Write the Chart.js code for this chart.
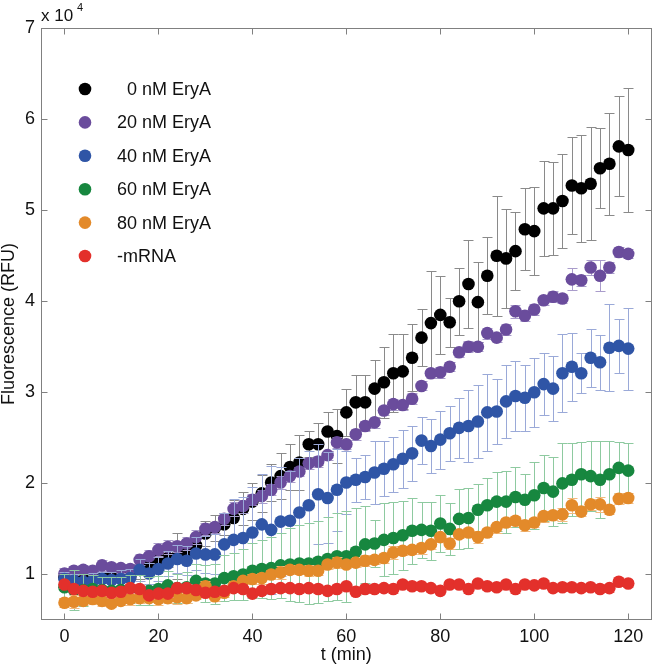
<!DOCTYPE html>
<html>
<head>
<meta charset="utf-8">
<title>Fluorescence vs time</title>
<script src="https://cdn.jsdelivr.net/npm/chart.js@4.4.1/dist/chart.umd.min.js"></script>
<style>
  html, body { margin: 0; padding: 0; background: #fff; }
  #wrap { width: 658px; height: 669px; }
</style>
</head>
<body>
<div id="wrap"><canvas id="fluoChart" width="658" height="669"></canvas></div>
<script>
// time points (min)
var times = [0,2,4,6,8,10,12,14,16,18,
             20,22,24,26,28,30,32,34,36,38,
             40,42,44,46,48,50,52,54,56,58,
             60,62,64,66,68,70,72,74,76,78,
             80,82,84,86,88,90,92,94,96,98,
             100,102,104,106,108,110,112,114,116,118,
             120];

var xTicks = [0, 20, 40, 60, 80, 100, 120];
var yTicks = [10000, 20000, 30000, 40000, 50000, 60000, 70000];

var seriesLabels = ['  0 nM EryA', '20 nM EryA', '40 nM EryA', '60 nM EryA', '80 nM EryA', '-mRNA'];

// fluorescence, in units of 10^4 RFU
var eryA0 = [0.97,0.95,0.94,0.96,0.97,0.97,0.99,0.98,1.05,1.12,
             1.16,1.18,1.20,1.26,1.32,1.45,1.51,1.55,1.62,1.72,
             1.80,1.89,2.01,2.08,2.18,2.23,2.43,2.43,2.57,2.52,
             2.78,2.89,2.89,3.04,3.11,3.21,3.23,3.38,3.60,3.76,
             3.85,3.77,4.00,4.19,3.99,4.28,4.50,4.47,4.55,4.79,
             4.77,5.02,5.02,5.10,5.27,5.24,5.29,5.46,5.51,5.70,
             5.66];
var eryA0Err = [0.06,0.05,0.05,0.06,0.06,0.06,0.07,0.08,0.10,0.08,
                0.08,0.10,0.25,0.10,0.12,0.14,0.14,0.12,0.20,0.18,
                0.20,0.20,0.20,0.25,0.25,0.30,0.14,0.23,0.21,0.30,
                0.26,0.30,0.30,0.32,0.39,0.43,0.41,0.37,0.31,0.57,
                0.43,0.27,0.37,0.48,0.44,0.42,0.66,0.54,0.43,0.45,
                0.48,0.52,0.51,0.52,0.53,0.59,0.62,0.44,0.56,0.55,
                0.68];

var eryA20 = [1.01,1.04,1.05,1.04,1.10,1.08,1.07,1.06,1.16,1.20,
              1.27,1.30,1.31,1.34,1.41,1.50,1.52,1.61,1.72,1.75,
              1.82,1.86,1.93,2.01,2.08,2.13,2.22,2.24,2.31,2.45,
              2.43,2.54,2.63,2.67,2.80,2.87,2.86,2.93,3.07,3.21,
              3.22,3.28,3.44,3.50,3.50,3.65,3.60,3.69,3.89,3.84,
              3.91,4.01,4.05,4.03,4.24,4.23,4.37,4.28,4.37,4.54,
              4.52];
var eryA20Err = [0.06,0.05,0.05,0.05,0.06,0.05,0.05,0.06,0.06,0.07,
                 0.07,0.08,0.06,0.07,0.08,0.07,0.06,0.07,0.08,0.07,
                 0.06,0.07,0.06,0.07,0.06,0.05,0.06,0.06,0.05,0.06,
                 0.05,0.06,0.05,0.06,0.05,0.06,0.05,0.06,0.05,0.05,
                 0.06,0.05,0.05,0.06,0.05,0.06,0.05,0.06,0.07,0.06,
                 0.06,0.05,0.06,0.05,0.12,0.06,0.08,0.17,0.06,0.05,
                 0.05];

var eryA40 = [0.95,0.93,0.92,0.93,0.95,0.94,0.95,0.96,1.05,1.01,
              1.06,1.12,1.17,1.15,1.23,1.22,1.22,1.33,1.38,1.40,
              1.46,1.55,1.49,1.58,1.59,1.68,1.76,1.88,1.84,1.93,
              2.01,2.04,2.07,2.12,2.16,2.21,2.27,2.33,2.47,2.41,
              2.48,2.55,2.61,2.63,2.68,2.78,2.79,2.90,2.96,2.94,
              3.00,3.09,3.04,3.21,3.28,3.21,3.38,3.33,3.49,3.51,
              3.48];
var eryA40Err = [0.08,0.08,0.08,0.09,0.08,0.09,0.10,0.10,0.12,0.12,
                 0.13,0.14,0.15,0.16,0.18,0.20,0.22,0.35,0.45,0.45,
                 0.50,0.55,0.70,0.60,0.55,0.60,0.60,0.55,0.50,0.45,
                 0.35,0.24,0.24,0.35,0.30,0.30,0.32,0.30,0.26,0.30,
                 0.32,0.30,0.33,0.40,0.40,0.42,0.36,0.40,0.38,0.36,
                 0.38,0.34,0.36,0.43,0.37,0.22,0.32,0.30,0.48,0.30,
                 0.45];

var eryA60 = [0.86,0.83,0.83,0.84,0.83,0.82,0.83,0.84,0.83,0.82,
              0.84,0.88,0.85,0.86,0.93,0.90,0.90,0.96,0.98,1.00,
              1.04,1.06,1.07,1.10,1.11,1.12,1.12,1.14,1.17,1.20,
              1.20,1.25,1.33,1.34,1.38,1.40,1.43,1.48,1.49,1.48,
              1.56,1.50,1.61,1.62,1.71,1.76,1.80,1.80,1.85,1.82,
              1.87,1.95,1.91,2.00,2.04,2.10,2.08,2.04,2.10,2.17,
              2.14];
var eryA60Err = [0.15,0.22,0.18,0.15,0.14,0.15,0.14,0.15,0.16,0.15,
                 0.14,0.16,0.16,0.17,0.18,0.20,0.22,0.25,0.26,0.28,
                 0.30,0.32,0.34,0.36,0.40,0.42,0.44,0.45,0.46,0.48,
                 0.50,0.48,0.42,0.26,0.40,0.40,0.38,0.36,0.31,0.32,
                 0.31,0.29,0.33,0.33,0.28,0.30,0.32,0.34,0.33,0.28,
                 0.37,0.36,0.38,0.44,0.40,0.35,0.38,0.42,0.36,0.28,
                 0.30];

var eryA80 = [0.69,0.70,0.71,0.73,0.71,0.68,0.71,0.73,0.74,0.74,
              0.73,0.74,0.75,0.74,0.77,0.87,0.76,0.80,0.87,0.93,
              0.95,0.96,1.00,1.02,1.05,1.05,1.04,1.04,1.11,1.13,
              1.11,1.13,1.15,1.16,1.18,1.24,1.26,1.27,1.29,1.33,
              1.41,1.34,1.44,1.46,1.41,1.46,1.52,1.57,1.59,1.54,
              1.57,1.64,1.65,1.66,1.76,1.69,1.77,1.77,1.71,1.83,
              1.84];
var eryA80Err = [0.05,0.07,0.04,0.05,0.06,0.04,0.05,0.06,0.05,0.04,
                 0.06,0.05,0.07,0.05,0.04,0.06,0.05,0.05,0.06,0.04,
                 0.05,0.06,0.05,0.07,0.05,0.04,0.06,0.05,0.05,0.06,
                 0.04,0.05,0.06,0.05,0.05,0.07,0.05,0.04,0.06,0.05,
                 0.05,0.06,0.04,0.05,0.07,0.05,0.06,0.05,0.04,0.06,
                 0.05,0.06,0.05,0.07,0.08,0.05,0.06,0.08,0.05,0.06,
                 0.05];

var noMrna = [0.89,0.84,0.82,0.81,0.82,0.80,0.81,0.85,0.84,0.77,
              0.79,0.79,0.85,0.85,0.83,0.80,0.81,0.82,0.85,0.84,
              0.79,0.82,0.84,0.85,0.85,0.84,0.85,0.84,0.82,0.84,
              0.87,0.81,0.84,0.84,0.85,0.84,0.89,0.87,0.87,0.85,
              0.82,0.89,0.89,0.84,0.90,0.87,0.86,0.89,0.84,0.89,
              0.88,0.90,0.85,0.86,0.86,0.85,0.86,0.84,0.85,0.92,
              0.90];
var noMrnaErr = [0.04,0.03,0.04,0.03,0.03,0.04,0.03,0.05,0.03,0.04,
                 0.03,0.04,0.03,0.04,0.03,0.03,0.04,0.03,0.04,0.03,
                 0.04,0.03,0.03,0.04,0.03,0.04,0.03,0.04,0.03,0.03,
                 0.04,0.03,0.04,0.03,0.03,0.04,0.03,0.04,0.03,0.03,
                 0.04,0.03,0.03,0.04,0.03,0.04,0.03,0.03,0.04,0.03,
                 0.03,0.04,0.03,0.04,0.03,0.03,0.04,0.03,0.04,0.03,
                 0.04];

var SCALE = 10000;
var FONT = "'Liberation Sans', Arial, Helvetica, sans-serif";

var colors    = ['#000000', '#6a4c9c', '#2f55a6', '#17873f', '#e38a2a', '#e3302b'];
var errColors = ['#8a8a8a', '#a99ccb', '#9aa9d8', '#8ecaa0', '#f1bb80', '#f0938e'];
var allVals = [eryA0, eryA20, eryA40, eryA60, eryA80, noMrna];
var allErrs = [eryA0Err, eryA20Err, eryA40Err, eryA60Err, eryA80Err, noMrnaErr];

var datasets = allVals.map(function (vals, k) {
  return {
    label: seriesLabels[k],
    data: times.map(function (t, i) { return { x: t, y: vals[i] * SCALE }; }),
    err: allErrs[k].map(function (e) { return e * SCALE; }),
    errColor: errColors[k],
    backgroundColor: colors[k],
    borderColor: colors[k],
    pointRadius: 6.3,
    pointBorderWidth: 0,
    showLine: false,
    order: allVals.length - 1 - k // first series at the bottom, -mRNA on top
  };
});

// vertical error bars with caps, drawn under each series' own markers
var errorBars = {
  id: 'errorBars',
  beforeDatasetDraw: function (chart, args) {
    var ds = chart.data.datasets[args.index];
    var meta = args.meta;
    var ys = chart.scales.y;
    var c = chart.ctx;
    c.save();
    c.strokeStyle = ds.errColor;
    c.lineWidth = 1;
    ds.data.forEach(function (p, i) {
      var px = Math.round(meta.data[i].x) + 0.5;
      var top = Math.round(ys.getPixelForValue(p.y + ds.err[i])) + 0.5;
      var bot = Math.round(ys.getPixelForValue(p.y - ds.err[i])) + 0.5;
      c.beginPath();
      c.moveTo(px, top); c.lineTo(px, bot);
      c.moveTo(px - 5, top); c.lineTo(px + 5, top);
      c.moveTo(px - 5, bot); c.lineTo(px + 5, bot);
      c.stroke();
    });
    c.restore();
  }
};

// box, inward ticks, exponent and legend
var frame = {
  id: 'frame',
  afterDraw: function (chart) {
    var c = chart.ctx, a = chart.chartArea;
    var xs = chart.scales.x, ys = chart.scales.y;
    var L = Math.round(a.left) + 0.5, R = Math.round(a.right) - 0.5;
    var T = Math.round(a.top) + 0.5, B = Math.round(a.bottom) - 0.5;
    c.save();
    c.strokeStyle = '#808080';
    c.lineWidth = 1;
    c.strokeRect(L, T, R - L, B - T);
    c.beginPath();
    xTicks.forEach(function (v) {
      var px = Math.round(xs.getPixelForValue(v)) + 0.5;
      c.moveTo(px, B); c.lineTo(px, B - 6);
      c.moveTo(px, T); c.lineTo(px, T + 6);
    });
    yTicks.forEach(function (v) {
      var py = Math.round(ys.getPixelForValue(v)) + 0.5;
      c.moveTo(L, py); c.lineTo(L + 6, py);
      c.moveTo(R, py); c.lineTo(R - 6, py);
    });
    c.stroke();

    // exponent label
    c.fillStyle = '#111';
    c.textBaseline = 'alphabetic';
    c.textAlign = 'left';
    c.font = '17px ' + FONT;
    c.fillText('x 10', 41, 21);
    c.font = '11px ' + FONT;
    c.fillText('4', 77, 11);

    // legend
    c.font = '18px ' + FONT;
    c.textBaseline = 'middle';
    chart.data.datasets.forEach(function (ds, k) {
      var ly = 89 + k * 33.4;
      c.fillStyle = ds.backgroundColor;
      c.beginPath();
      c.arc(85, ly, 6.3, 0, Math.PI * 2);
      c.fill();
      c.fillStyle = '#111';
      c.fillText(ds.label, 117, ly + 1);
    });
    c.restore();
  }
};

var ctx = document.getElementById('fluoChart');
var fluoChart = new Chart(ctx, {
  type: 'scatter',
  data: { datasets: datasets },
  options: {
    responsive: false,
    animation: false,
    events: [],
    layout: { padding: { top: 28, right: 1, left: 0, bottom: 0 } },
    plugins: { legend: { display: false }, tooltip: { enabled: false } },
    scales: {
      x: {
        type: 'linear',
        min: -5,
        max: 125,
        afterBuildTicks: function (s) { s.ticks = xTicks.map(function (v) { return { value: v }; }); },
        afterFit: function (s) { s.height = 49; },
        grid: { display: false, drawTicks: false },
        border: { display: false },
        ticks: { padding: 8, color: '#111', font: { family: FONT, size: 18, lineHeight: 1 }, maxRotation: 0 },
        title: { display: true, text: 't (min)', color: '#111', font: { family: FONT, size: 18, lineHeight: 1 }, padding: { top: 0, bottom: 5 } }
      },
      y: {
        type: 'linear',
        min: 5000,
        max: 70000,
        afterBuildTicks: function (s) { s.ticks = yTicks.map(function (v) { return { value: v }; }); },
        afterFit: function (s) { s.width = 41; },
        grid: { display: false, drawTicks: false },
        border: { display: false },
        ticks: {
          padding: 6, color: '#111', font: { family: FONT, size: 18, lineHeight: 1 },
          callback: function (v) { return v / SCALE; }
        },
        title: { display: true, text: 'Fluorescence (RFU)', color: '#111', font: { family: FONT, size: 18, lineHeight: 1 }, padding: { top: 0, bottom: 0 } }
      }
    }
  },
  plugins: [errorBars, frame]
});
</script>
</body>
</html>
